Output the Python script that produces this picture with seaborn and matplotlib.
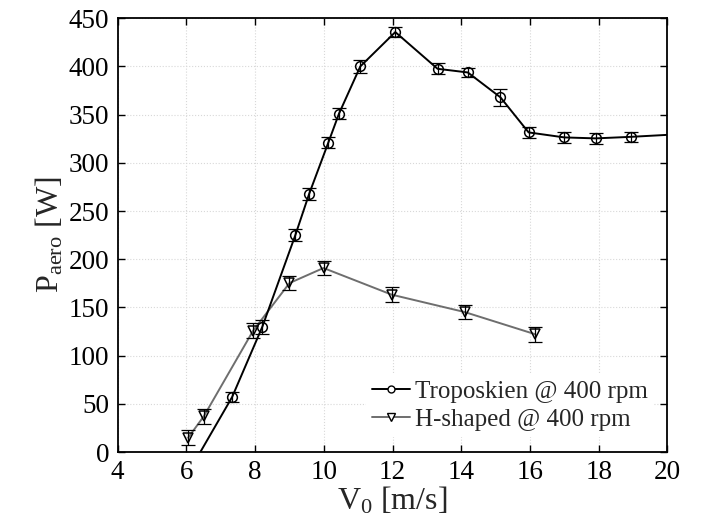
import numpy as np
import pandas as pd
import matplotlib
matplotlib.use("Agg")
import matplotlib.pyplot as plt
import seaborn as sns
from matplotlib.lines import Line2D

# ---- data ----
tropo_v = [6.0, 7.33, 8.21, 9.17, 9.57, 10.13, 10.44, 11.06, 12.08, 13.31, 14.19, 15.14, 15.96, 17.0, 17.91, 18.94, 21.0]
tropo_p = [-25, 57, 130, 225, 267.6, 321, 351, 400, 435.7, 397.6, 393.8, 368, 331.6, 326.4, 325.4, 327, 331]
tropo_err = [5, 5.5, 7.4, 5.9, 6, 6, 5.5, 6.5, 5.5, 5.5, 5, 9, 5.5, 5.8, 5.5, 5.5, 5.5]

hshape_v = [6.05, 6.51, 7.94, 9.0, 9.99, 11.98, 14.1, 16.16]
hshape_p = [14.8, 37.3, 125.8, 175.3, 190.9, 163.2, 145.2, 122.1]
hshape_err = [7.8, 7.8, 7.6, 7.7, 7.5, 8, 7.5, 7.8]

series_labels = ["Troposkien @ 400 rpm", "H-shaped @ 400 rpm"]
x_ticks = [4, 6, 8, 10, 12, 14, 16, 18, 20]
y_ticks = [0, 50, 100, 150, 200, 250, 300, 350, 400, 450]

sns.set_style("white")
plt.rcParams["font.family"] = ["Liberation Serif", "DejaVu Serif"]
plt.rcParams["mathtext.fontset"] = "custom"
plt.rcParams["mathtext.rm"] = "Liberation Serif"
plt.rcParams["mathtext.it"] = "Liberation Serif:italic"

fig = plt.figure(figsize=(7.07, 5.27), dpi=100)
ax = fig.add_axes([0.1665, 0.1423, 0.7775, 0.8230])

df_t = pd.DataFrame({"v": tropo_v, "p": tropo_p})
df_h = pd.DataFrame({"v": hshape_v, "p": hshape_p})

gray = "#6e6e6e"
sns.lineplot(data=df_h, x="v", y="p", ax=ax, sort=False, color=gray, lw=1.4,
             marker="v", markersize=7.5, markerfacecolor="none",
             markeredgecolor="black", markeredgewidth=1.1, zorder=3)
ax.errorbar(hshape_v, hshape_p, yerr=hshape_err, fmt="none", ecolor="black",
            elinewidth=0.9, capsize=5, capthick=0.9, zorder=3)

sns.lineplot(data=df_t, x="v", y="p", ax=ax, sort=False, color="black", lw=1.4,
             marker="o", markersize=7, markerfacecolor="none",
             markeredgecolor="black", markeredgewidth=1.1, zorder=4)
ax.errorbar(tropo_v, tropo_p, yerr=tropo_err, fmt="none", ecolor="black",
            elinewidth=0.9, capsize=5, capthick=0.9, zorder=4)

ax.set_xlim(4, 20)
ax.set_ylim(0, 450)
ax.set_xticks(x_ticks)
ax.set_yticks(y_ticks)
ax.tick_params(direction="in", length=5, width=1, labelsize=19.5, pad=6,
               top=True, right=True, bottom=True, left=True, colors="black")
ax.grid(True, color="#d8d8d8", linestyle=":", linewidth=0.8)
for s in ax.spines.values():
    s.set_linewidth(1.3)
    s.set_color("black")

ax.set_xlabel(r"V$_0$ [m/s]", fontsize=23, labelpad=0)
ax.set_ylabel(r"P$_{\rm aero}$ [W]", fontsize=23, labelpad=2)

handles = [
    Line2D([0], [0], color="black", lw=1.4, marker="o", markersize=5,
           markerfacecolor="white", markeredgecolor="black"),
    Line2D([0], [0], color=gray, lw=1.4, marker="v", markersize=6,
           markerfacecolor="white", markeredgecolor="black"),
]
leg = ax.legend(handles, series_labels, loc="lower right",
                bbox_to_anchor=(0.975, 0.035), fontsize=18,
                frameon=True, fancybox=False, framealpha=1, edgecolor="white",
                handlelength=1.5, handletextpad=0.2, labelspacing=0.2,
                borderpad=0.25, borderaxespad=0)
leg.get_frame().set_linewidth(0)

fig.savefig("out.png", dpi=100)
